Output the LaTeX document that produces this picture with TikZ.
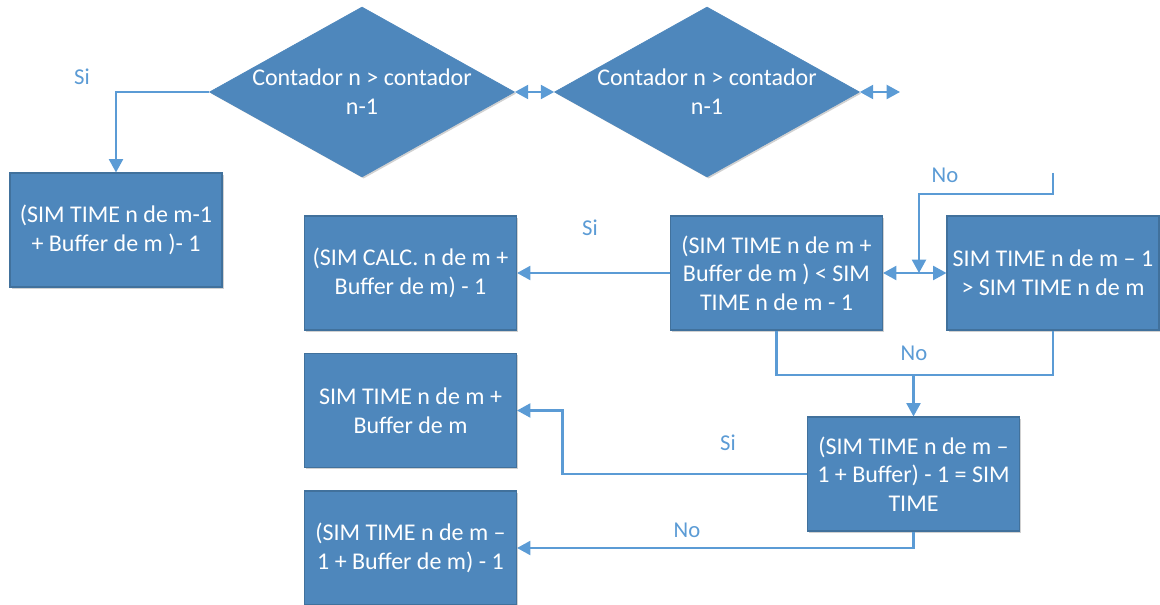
\documentclass[tikz,border=0pt]{standalone}
\usepackage{fontspec}
\setmainfont{Carlito}
\usetikzlibrary{arrows.meta,shapes.geometric,shadows}
\definecolor{boxfill}{HTML}{4E87BC}
\definecolor{boxline}{HTML}{41719C}
\definecolor{flow}{HTML}{5B9BD5}
\tikzset{
  >={Triangle[length=10pt,width=10.5pt]},
  boxshadow/.style={drop shadow={shadow xshift=1.2pt,shadow yshift=-1.2pt,opacity=0.18,fill=black}},
  stepbox/.style={rectangle, fill=boxfill, draw=boxline, line width=0.8pt,
    minimum width=159pt, minimum height=85.5pt, inner sep=1pt,
    align=center, text=white, font=\fontsize{18}{21.5}\selectfont, boxshadow},
  decision/.style={diamond, aspect=1.794, fill=boxfill, draw=boxfill, line width=0.5pt,
    minimum width=228.75pt, minimum height=127.5pt, inner xsep=-6pt, inner ysep=0pt,
    align=center, text=white, font=\fontsize{18}{21.5}\selectfont, boxshadow},
  flowline/.style={draw=flow, line width=1.6pt},
  lbl/.style={text=flow, font=\fontsize{17}{20}\selectfont, inner sep=0pt}
}
\begin{document}
\begin{tikzpicture}[x=0.75pt,y=-0.75pt]
  \useasboundingbox (0,0) rectangle (1160,605);

  % decisions on the top row
  \node[decision] (d1) at (362,92) {Contador n > contador\\n-1};
  \node[decision] (d2) at (707,92) {Contador n > contador\\n-1};
  \coordinate (o1) at (900,92);

  % process boxes
  \node[stepbox] (A) at (116,230)   {(SIM TIME n de m-1\\+ Buffer de m )- 1};
  \node[stepbox] (B) at (410.5,273) {(SIM CALC. n de m +\\Buffer de m) - 1};
  \node[stepbox] (C) at (776.5,273) {(SIM TIME n de m +\\Buffer de m ) < SIM\\TIME n de m - 1};
  \node[stepbox] (D) at (1053,273)  {SIM TIME n de m – 1\\> SIM TIME n de m};
  \node[stepbox] (F) at (410.5,410.5) {SIM TIME n de m +\\Buffer de m};
  \node[stepbox] (E) at (913.5,474) {(SIM TIME n de m –\\1 + Buffer) - 1 = SIM\\TIME};
  \node[stepbox] (G) at (410.5,548) {(SIM TIME n de m –\\1 + Buffer de m) - 1};

  % junction points
  \coordinate (n1) at (1053,173);
  \coordinate (j1) at (919,273);
  \coordinate (j2) at (913.5,375);

  % connectors
  \draw[flowline,->] (d1.west) -| (A.north);
  \draw[flowline,<->] (d1.east) -- (d2.west);
  \draw[flowline,<->] (d2.east) -- (o1);
  \draw[flowline,->] (C.west) -- (B.east);
  \draw[flowline,<->] (C.east) -- (D.west);
  \draw[flowline,->] (n1) -- ++(0,21) -| (j1);
  \draw[flowline] (C.south) |- (j2) -| (D.south);
  \draw[flowline,->] (j2) -- (E.north);
  \draw[flowline,->] (E.west) -- ++(-244.5,0) |- (F.east);
  \draw[flowline,->] (E.south) |- (G.east);

  % branch labels
  \node[lbl] (l1) at (82,77)   {Si};
  \node[lbl] (l2) at (590,228) {Si};
  \node[lbl] (l3) at (945,175) {No};
  \node[lbl] (l4) at (914,353) {No};
  \node[lbl] (l5) at (728,443) {Si};
  \node[lbl] (l6) at (687,530) {No};
\end{tikzpicture}
\end{document}
